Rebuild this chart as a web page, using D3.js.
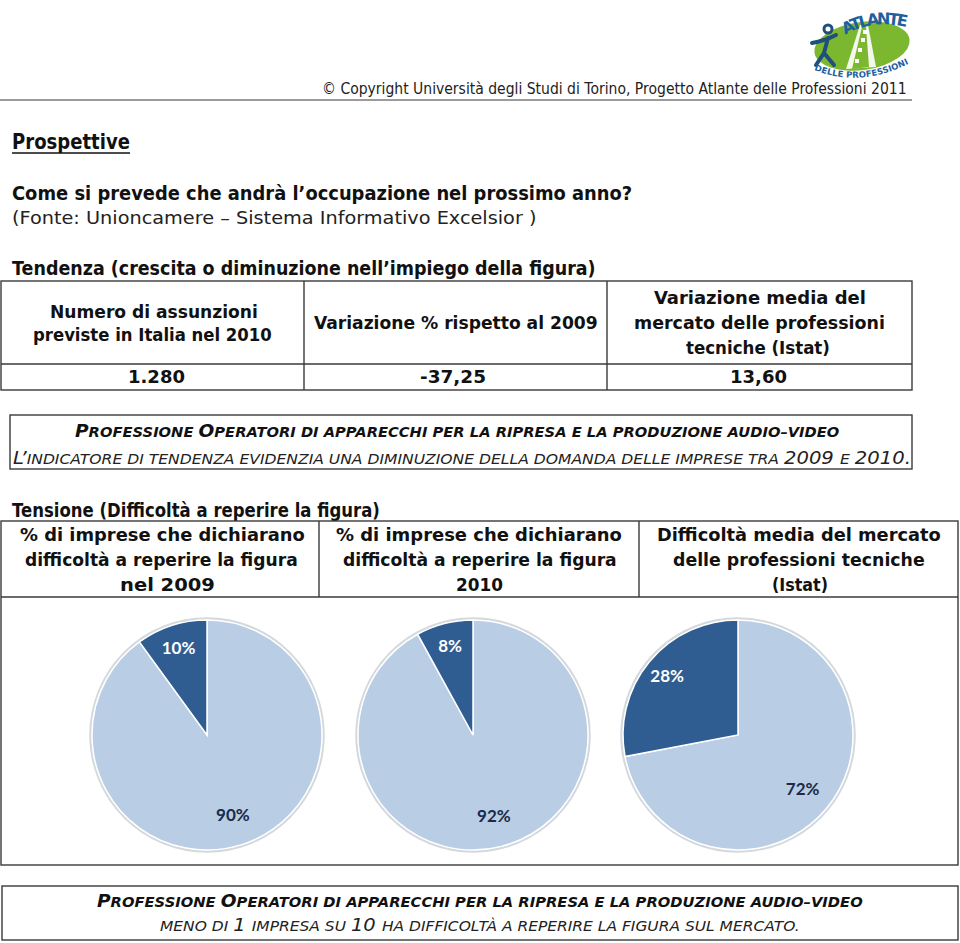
<!DOCTYPE html>
<html><head><meta charset="utf-8">
<script src="https://cdn.jsdelivr.net/npm/d3@7"></script>
<style>html,body{margin:0;padding:0;background:#fff;}svg{display:block;}</style>
</head><body>
<script>
// ---------- DATA ----------
const copyright = "© Copyright Università degli Studi di Torino, Progetto Atlante delle Professioni 2011";
const title = "Prospettive";
const question = "Come si prevede che andrà l’occupazione nel prossimo anno?";
const source = "(Fonte: Unioncamere – Sistema Informativo Excelsior )";
const trendTitle = "Tendenza (crescita o diminuzione nell’impiego della figura)";
const trendHeaders = [
  ["Numero di assunzioni", "previste in Italia nel 2010"],
  ["Variazione % rispetto al 2009"],
  ["Variazione media del", "mercato delle professioni", "tecniche (Istat)"]
];
const trendValues = ["1.280", "-37,25", "13,60"];
const profession = "Professione Operatori di apparecchi per la ripresa e la produzione audio–video";
const trendNote = "L’indicatore di tendenza evidenzia una diminuzione della domanda delle imprese tra 2009 e 2010.";
const tensionTitle = "Tensione (Difficoltà a reperire la figura)";
const tensionHeaders = [
  ["% di imprese che dichiarano", "difficoltà a reperire la figura", "nel 2009"],
  ["% di imprese che dichiarano", "difficoltà a reperire la figura", "2010"],
  ["Difficoltà media del mercato", "delle professioni tecniche", "(Istat)"]
];
const pieCategories = ["Nessuna difficoltà", "Con difficoltà"];
const pieHard = [10, 8, 28];      // % imprese con difficoltà
const pieEasy = [90, 92, 72];     // % complementare
const tensionNote = "meno di 1 impresa su 10 ha difficoltà a reperire la figura sul mercato.";
const logoTop = "ATLANTE";
const logoBottom = "DELLE PROFESSIONI";

// ---------- LAYOUT ----------
const W = 960, H = 943;
const FONT = "'DejaVu Sans', sans-serif";
const svg = d3.select("body").append("svg").attr("width", W).attr("height", H);
svg.append("rect").attr("width", W).attr("height", H).attr("fill", "#fff");

// place text whose ink spans [left,right] with vertical centre cy
function fit(parent, left, right, cy, size, build, opts = {}) {
  const t = parent.append("text")
    .attr("font-family", opts.family || FONT)
    .attr("font-size", size)
    .attr("font-weight", opts.weight || "normal")
    .attr("font-style", opts.style || "normal")
    .attr("fill", opts.fill || "#111");
  if (typeof build === "string") t.text(build); else build(t);
  const w = t.node().getComputedTextLength();
  const sx = (right - left) / w;
  const base = cy + size * (opts.bfac || 0.36);
  t.attr("transform", `translate(${left},${base}) scale(${sx},1)`);
  return t;
}

// small caps: uppercase letters & digits big, lowercase -> small uppercase
function smallCaps(str, big, small) {
  return t => {
    let cur = null, buf = "";
    const flush = () => { if (buf) t.append("tspan").attr("font-size", cur ? big : small).text(cur ? buf : buf.toUpperCase()); buf = ""; };
    for (const ch of str) {
      const isBig = /[A-Z0-9À-Ý’']/.test(ch) ? true : (/[a-zà-ÿ]/.test(ch) ? false : (cur === null ? false : cur));
      if (cur === null) cur = isBig;
      if (isBig !== cur) { flush(); cur = isBig; }
      buf += ch;
    }
    flush();
  };
}

// ---------- HEADER ----------
fit(svg, 322, 907, 89, 15, copyright, { fill: "#222" });
svg.append("line").attr("x1", 0).attr("x2", 912).attr("y1", 100).attr("y2", 100)
  .attr("stroke", "#7a7a7a").attr("stroke-width", 1.6);

// logo
const logo = svg.append("g");
logo.append("ellipse").attr("cx", 862).attr("cy", 46).attr("rx", 48).attr("ry", 24)
  .attr("transform", "rotate(-8,862,46)").attr("fill", "#7cb82f");
logo.append("path").attr("d", "M846,69 L860,25 L868,25 L876,67 Z").attr("fill", "#fff").attr("opacity", 0.9);
logo.append("path").attr("d", "M852,69 L862,27 L866,27 L869,67 Z").attr("fill", "#7cb82f");
[[855,59],[858,48],[861,38],[863,30]].forEach(p => logo.append("rect").attr("x", p[0]).attr("y", p[1]).attr("width", 4).attr("height", 4).attr("fill", "#fff"));
logo.append("circle").attr("cx", 828).attr("cy", 29).attr("r", 4).attr("fill", "none").attr("stroke", "#1f4f7a").attr("stroke-width", 3);
logo.append("path").attr("d", "M812,43 Q824,41 836,35 M828,38 L824,53 L816,65 M824,53 L834,65")
  .attr("fill", "none").attr("stroke", "#1f4f7a").attr("stroke-width", 4).attr("stroke-linecap", "round");
logo.append("path").attr("id", "arcTop").attr("d", "M845,35 Q872,19 906,27").attr("fill", "none");
logo.append("text").attr("font-family", FONT).attr("font-weight", "bold").attr("font-size", 16).attr("fill", "#1f5f9e")
  .append("textPath").attr("href", "#arcTop").attr("textLength", 64).text(logoTop);
logo.append("path").attr("id", "arcBot").attr("d", "M814,70 Q860,88 908,64").attr("fill", "none");
logo.append("text").attr("font-family", FONT).attr("font-weight", "bold").attr("font-size", 8.5).attr("fill", "#1f5f9e")
  .append("textPath").attr("href", "#arcBot").attr("textLength", 98).text(logoBottom);

// ---------- TITLES ----------
fit(svg, 12, 130, 141, 21, title, { weight: "bold" });
svg.append("line").attr("x1", 12).attr("x2", 130).attr("y1", 153).attr("y2", 153).attr("stroke", "#111").attr("stroke-width", 1.6);
fit(svg, 12, 633, 193, 19, question, { weight: "bold" });
fit(svg, 12, 537, 218, 18, source, { fill: "#222" });
fit(svg, 12, 596, 268, 19, trendTitle, { weight: "bold" });

// ---------- TABLE 1 ----------
const stroke = "#3a3a3a";
const t1 = { x0: 1, x1: 912, y0: 281, ym: 364, y1: 390, cols: [1, 304, 607, 912] };
const g1 = svg.append("g");
g1.append("rect").attr("x", t1.x0).attr("y", t1.y0).attr("width", t1.x1 - t1.x0).attr("height", t1.y1 - t1.y0)
  .attr("fill", "none").attr("stroke", stroke).attr("stroke-width", 1.4);
g1.append("line").attr("x1", t1.x0).attr("x2", t1.x1).attr("y1", t1.ym).attr("y2", t1.ym).attr("stroke", stroke).attr("stroke-width", 1.4);
[1, 2].forEach(i => g1.append("line").attr("x1", t1.cols[i]).attr("x2", t1.cols[i]).attr("y1", t1.y0).attr("y2", t1.y1).attr("stroke", stroke).attr("stroke-width", 1.4));
const t1Ext = [
  [[50, 258], [33, 272]],
  [[314, 598]],
  [[654, 866], [634, 885], [686, 830]]
];
const t1Cy = [[312, 335], [323], [298, 323, 348]];
const COND = "'DejaVu Sans Condensed', 'DejaVu Sans', sans-serif";
trendHeaders.forEach((lines, c) => lines.forEach((s, j) =>
  fit(g1, t1Ext[c][j][0], t1Ext[c][j][1], t1Cy[c][j], 18, s, { weight: "bold", family: COND })));
const t1ValExt = [[128, 185], [420, 486], [730, 787]];
trendValues.forEach((s, c) => fit(g1, t1ValExt[c][0], t1ValExt[c][1], 377, 18, s, { weight: "bold", family: COND }));

// ---------- BOX 2 ----------
svg.append("rect").attr("x", 10).attr("y", 415).attr("width", 902).attr("height", 54)
  .attr("fill", "none").attr("stroke", stroke).attr("stroke-width", 1.4);
fit(svg, 75, 840, 432, 17, smallCaps(profession, 17, 13.5), { weight: "bold", style: "italic", bfac: 0.3 });
fit(svg, 13, 912, 459, 17, smallCaps(trendNote, 17, 13.5), { style: "italic", bfac: 0.3, fill: "#222" });

// ---------- TABLE 2 ----------
fit(svg, 12, 380, 510, 19, tensionTitle, { weight: "bold" });
const t2 = { x0: 1, x1: 958, y0: 521, ym: 597, y1: 865, cols: [1, 319, 639, 958] };
const g2 = svg.append("g");
g2.append("rect").attr("x", t2.x0).attr("y", t2.y0).attr("width", t2.x1 - t2.x0).attr("height", t2.y1 - t2.y0)
  .attr("fill", "none").attr("stroke", stroke).attr("stroke-width", 1.4);
g2.append("line").attr("x1", t2.x0).attr("x2", t2.x1).attr("y1", t2.ym).attr("y2", t2.ym).attr("stroke", stroke).attr("stroke-width", 1.4);
[1, 2].forEach(i => g2.append("line").attr("x1", t2.cols[i]).attr("x2", t2.cols[i]).attr("y1", t2.y0).attr("y2", t2.ym).attr("stroke", stroke).attr("stroke-width", 1.4));
const t2Ext = [
  [[20, 305], [25, 298], [120, 215]],
  [[336, 622], [343, 617], [456, 503]],
  [[657, 941], [673, 925], [772, 828]]
];
const t2Cy = [535, 560, 585];
tensionHeaders.forEach((lines, c) => lines.forEach((s, j) =>
  fit(g2, t2Ext[c][j][0], t2Ext[c][j][1], t2Cy[j], 18, s, { weight: "bold" })));

// ---------- PIES ----------
const R = 115, pieCy = 735;
const pieCx = [207, 473, 738];
const colour = d3.scaleOrdinal().domain(pieCategories).range(["#b9cde5", "#2f5d91"]);
const pie = d3.pie().sort(null).value(d => d.v);
const arc = d3.arc().innerRadius(0).outerRadius(R);
const labelRadius = d3.scaleOrdinal().domain(pieCategories).range([R * 0.73, R * 0.8]);
pieHard.forEach((hard, i) => {
  const data = [{ k: pieCategories[0], v: pieEasy[i] }, { k: pieCategories[1], v: hard }];
  const g = svg.append("g").attr("transform", `translate(${pieCx[i]},${pieCy})`);
  g.append("circle").attr("r", R + 1.5).attr("fill", "none").attr("stroke", "#d4d9de").attr("stroke-width", 2.5);
  const arcs = pie(data);
  g.selectAll("path").data(arcs).join("path")
    .attr("d", arc).attr("fill", d => colour(d.data.k))
    .attr("stroke", "#fff").attr("stroke-width", 1.5);
  g.selectAll("text").data(arcs).join("text")
    .attr("transform", d => {
      const r = labelRadius(d.data.k);
      const c = d3.arc().innerRadius(r).outerRadius(r).centroid(d);
      return `translate(${c[0]},${c[1] + 6})`;
    })
    .attr("text-anchor", "middle")
    .attr("font-family", "Lato, 'Open Sans', sans-serif").attr("font-weight", "bold").attr("font-size", 17)
    .attr("fill", d => d.data.k === pieCategories[1] ? "#fff" : "#1c2b45")
    .text(d => d.data.v + "%");
});

// ---------- BOX 3 ----------
svg.append("rect").attr("x", 2).attr("y", 886).attr("width", 956).attr("height", 54)
  .attr("fill", "none").attr("stroke", stroke).attr("stroke-width", 1.4);
fit(svg, 97, 863, 902, 17, smallCaps(profession, 17, 13.5), { weight: "bold", style: "italic", bfac: 0.3 });
fit(svg, 160, 800, 926, 17, smallCaps(tensionNote, 17, 13.5), { style: "italic", bfac: 0.3, fill: "#222" });
</script>
</body></html>
